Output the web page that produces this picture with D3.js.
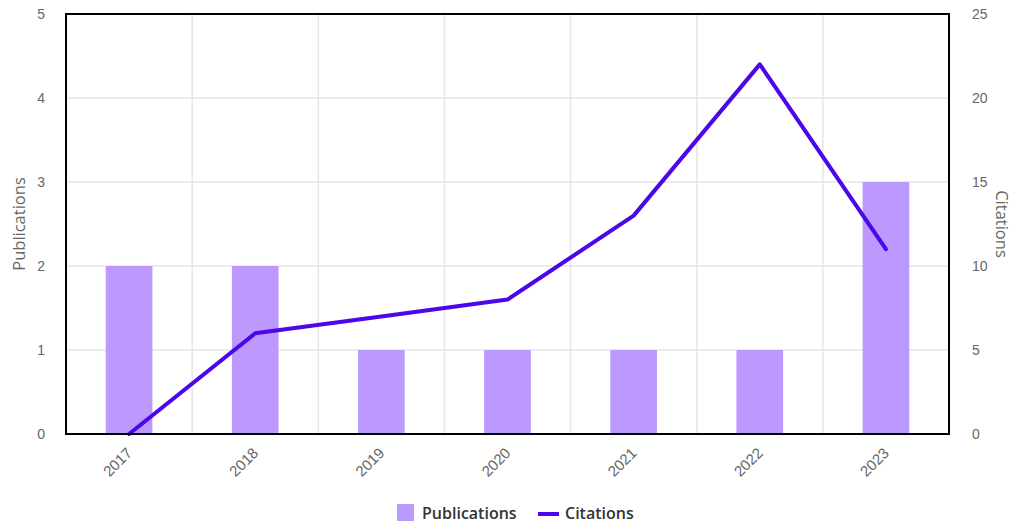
<!DOCTYPE html>
<html lang="en">
<head>
    <meta charset="UTF-8">
    <title>Publications and Citations</title>
    <script src="https://d3js.org/d3.v7.min.js"></script>
    <style>
        body { margin: 0; background: #fff; }
        svg { display: block; font-family: "Open Sans", sans-serif; }
        .tick text { fill: #666; font-size: 14px; }
        .x-ticks .tick text { font-size: 15px; }
        .axis-title { fill: #666; font-size: 16.5px; }
        .legend text { fill: #333; font-size: 16px; font-weight: 600; }
    </style>
</head>
<body>
    <svg id="chart"></svg>
    <script>
        // Data
        const years = ["2017", "2018", "2019", "2020", "2021", "2022", "2023"];
        const publications = [2, 2, 1, 1, 1, 1, 3];
        const citations = [0, 6, 7, 8, 13, 22, 11];
        const pubTicks = [0, 1, 2, 3, 4, 5];
        const citeTicks = [0, 5, 10, 15, 20, 25];

        const width = 1013, height = 526;
        const margin = { top: 14, right: 64, bottom: 92, left: 66 };
        const innerW = width - margin.left - margin.right;
        const innerH = height - margin.top - margin.bottom;

        const svg = d3.select("#chart")
            .attr("width", width)
            .attr("height", height);

        const g = svg.append("g")
            .attr("transform", "translate(" + margin.left + "," + margin.top + ")");

        const x = d3.scaleBand().domain(years).range([0, innerW]);
        const yLeft = d3.scaleLinear().domain([0, 5]).range([innerH, 0]);
        const yRight = d3.scaleLinear().domain([0, 25]).range([innerH, 0]);

        // grid lines
        g.append("g")
            .selectAll("line.h")
            .data(pubTicks)
            .enter().append("line")
            .attr("x1", 0).attr("x2", innerW)
            .attr("y1", d => yLeft(d)).attr("y2", d => yLeft(d))
            .attr("stroke", "#e6e6e6").attr("stroke-width", 1.5);

        g.append("g")
            .selectAll("line.v")
            .data(years.slice(1))
            .enter().append("line")
            .attr("x1", d => x(d)).attr("x2", d => x(d))
            .attr("y1", 0).attr("y2", innerH)
            .attr("stroke", "#e6e6e6").attr("stroke-width", 1.5);

        // bars
        const barW = x.bandwidth() * 0.37;
        g.selectAll("rect.bar")
            .data(years)
            .enter().append("rect")
            .attr("class", "bar")
            .attr("x", d => x(d) + x.bandwidth() / 2 - barW / 2)
            .attr("width", barW)
            .attr("y", (d, i) => yLeft(publications[i]))
            .attr("height", (d, i) => innerH - yLeft(publications[i]))
            .attr("fill", "#bb99ff");

        // citations line
        const line = d3.line()
            .x((d, i) => x(years[i]) + x.bandwidth() / 2)
            .y(d => yRight(d));

        g.append("path")
            .datum(citations)
            .attr("d", line)
            .attr("fill", "none")
            .attr("stroke", "#4b06ea")
            .attr("stroke-width", 4)
            .attr("stroke-linejoin", "round")
            .attr("stroke-linecap", "round");

        // frame
        g.append("rect")
            .attr("x", 0).attr("y", 0)
            .attr("width", innerW).attr("height", innerH)
            .attr("fill", "none")
            .attr("stroke", "#000").attr("stroke-width", 2);

        // axes
        const leftAxis = g.append("g")
            .call(d3.axisLeft(yLeft).tickValues(pubTicks).tickFormat(d3.format("d")).tickSize(0).tickPadding(21));
        leftAxis.select(".domain").remove();

        const rightAxis = g.append("g")
            .attr("transform", "translate(" + innerW + ",0)")
            .call(d3.axisRight(yRight).tickValues(citeTicks).tickFormat(d3.format("d")).tickSize(0).tickPadding(23));
        rightAxis.select(".domain").remove();

        const bottomAxis = g.append("g")
            .attr("class", "x-ticks")
            .attr("transform", "translate(0," + innerH + ")")
            .call(d3.axisBottom(x).tickSize(0).tickPadding(0));
        bottomAxis.select(".domain").remove();
        bottomAxis.selectAll("text")
            .attr("text-anchor", "end")
            .attr("dy", 0)
            .attr("transform", "translate(4,20) rotate(-45)");

        // axis titles
        svg.append("text")
            .attr("class", "axis-title")
            .attr("text-anchor", "middle")
            .attr("transform", "translate(25," + (margin.top + innerH / 2) + ") rotate(-90)")
            .text("Publications");

        svg.append("text")
            .attr("class", "axis-title")
            .attr("text-anchor", "middle")
            .attr("transform", "translate(996," + (margin.top + innerH / 2) + ") rotate(90)")
            .text("Citations");

        // legend
        const legend = svg.append("g")
            .attr("class", "legend")
            .attr("transform", "translate(397,504)");

        legend.append("rect")
            .attr("x", 0).attr("y", 0)
            .attr("width", 17).attr("height", 17)
            .attr("fill", "#bb99ff");
        legend.append("text")
            .attr("x", 25).attr("y", 15)
            .text("Publications");

        legend.append("line")
            .attr("x1", 141).attr("x2", 162)
            .attr("y1", 10).attr("y2", 10)
            .attr("stroke", "#4b06ea").attr("stroke-width", 4);
        legend.append("text")
            .attr("x", 168).attr("y", 15)
            .text("Citations");
    </script>
</body>
</html>
